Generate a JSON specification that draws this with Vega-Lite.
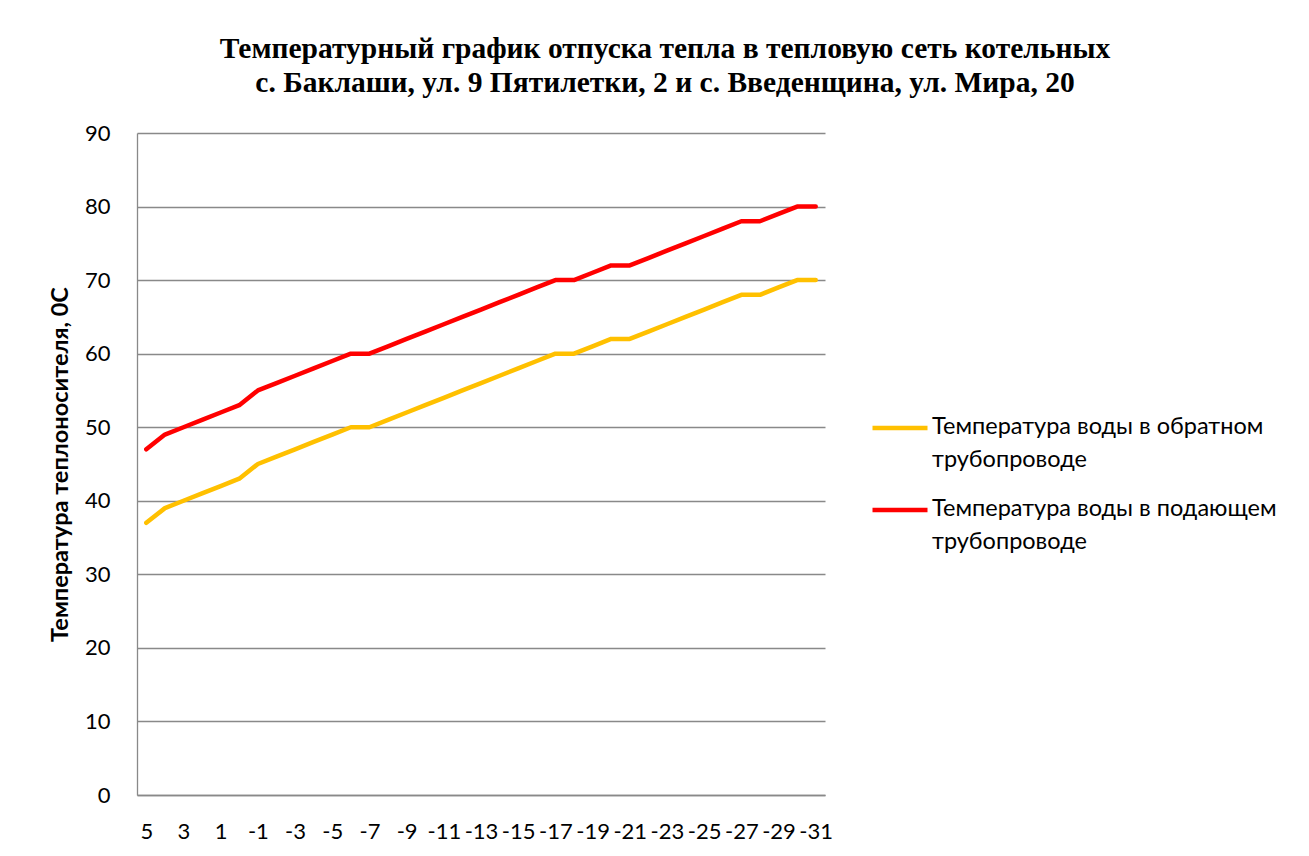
{
  "$schema": "https://vega.github.io/schema/vega-lite/v6.json",
  "autosize": "none",
  "width": 688,
  "height": 662,
  "padding": {"left": 137, "top": 133, "right": 484, "bottom": 61},
  "background": "white",
  "title": {
    "text": ["Температурный график отпуска тепла в тепловую сеть котельных", "с. Баклаши, ул. 9 Пятилетки, 2 и с. Введенщина, ул. Мира, 20"],
    "font": "Liberation Serif",
    "fontSize": 29.5,
    "fontWeight": "bold",
    "color": "black",
    "anchor": "middle",
    "dx": 184,
    "offset": 24,
    "lineHeight": 34
  },
  "data": {
    "values": [
      {"t": 5, "s": "return", "v": 37}, {"t": 4, "s": "return", "v": 39}, {"t": 3, "s": "return", "v": 40}, {"t": 2, "s": "return", "v": 41}, {"t": 1, "s": "return", "v": 42}, {"t": 0, "s": "return", "v": 43}, {"t": -1, "s": "return", "v": 45}, {"t": -2, "s": "return", "v": 46}, {"t": -3, "s": "return", "v": 47}, {"t": -4, "s": "return", "v": 48}, {"t": -5, "s": "return", "v": 49}, {"t": -6, "s": "return", "v": 50}, {"t": -7, "s": "return", "v": 50}, {"t": -8, "s": "return", "v": 51}, {"t": -9, "s": "return", "v": 52}, {"t": -10, "s": "return", "v": 53}, {"t": -11, "s": "return", "v": 54}, {"t": -12, "s": "return", "v": 55}, {"t": -13, "s": "return", "v": 56}, {"t": -14, "s": "return", "v": 57}, {"t": -15, "s": "return", "v": 58}, {"t": -16, "s": "return", "v": 59}, {"t": -17, "s": "return", "v": 60}, {"t": -18, "s": "return", "v": 60}, {"t": -19, "s": "return", "v": 61}, {"t": -20, "s": "return", "v": 62}, {"t": -21, "s": "return", "v": 62}, {"t": -22, "s": "return", "v": 63}, {"t": -23, "s": "return", "v": 64}, {"t": -24, "s": "return", "v": 65}, {"t": -25, "s": "return", "v": 66}, {"t": -26, "s": "return", "v": 67}, {"t": -27, "s": "return", "v": 68}, {"t": -28, "s": "return", "v": 68}, {"t": -29, "s": "return", "v": 69}, {"t": -30, "s": "return", "v": 70}, {"t": -31, "s": "return", "v": 70},
      {"t": 5, "s": "supply", "v": 47}, {"t": 4, "s": "supply", "v": 49}, {"t": 3, "s": "supply", "v": 50}, {"t": 2, "s": "supply", "v": 51}, {"t": 1, "s": "supply", "v": 52}, {"t": 0, "s": "supply", "v": 53}, {"t": -1, "s": "supply", "v": 55}, {"t": -2, "s": "supply", "v": 56}, {"t": -3, "s": "supply", "v": 57}, {"t": -4, "s": "supply", "v": 58}, {"t": -5, "s": "supply", "v": 59}, {"t": -6, "s": "supply", "v": 60}, {"t": -7, "s": "supply", "v": 60}, {"t": -8, "s": "supply", "v": 61}, {"t": -9, "s": "supply", "v": 62}, {"t": -10, "s": "supply", "v": 63}, {"t": -11, "s": "supply", "v": 64}, {"t": -12, "s": "supply", "v": 65}, {"t": -13, "s": "supply", "v": 66}, {"t": -14, "s": "supply", "v": 67}, {"t": -15, "s": "supply", "v": 68}, {"t": -16, "s": "supply", "v": 69}, {"t": -17, "s": "supply", "v": 70}, {"t": -18, "s": "supply", "v": 70}, {"t": -19, "s": "supply", "v": 71}, {"t": -20, "s": "supply", "v": 72}, {"t": -21, "s": "supply", "v": 72}, {"t": -22, "s": "supply", "v": 73}, {"t": -23, "s": "supply", "v": 74}, {"t": -24, "s": "supply", "v": 75}, {"t": -25, "s": "supply", "v": 76}, {"t": -26, "s": "supply", "v": 77}, {"t": -27, "s": "supply", "v": 78}, {"t": -28, "s": "supply", "v": 78}, {"t": -29, "s": "supply", "v": 79}, {"t": -30, "s": "supply", "v": 80}, {"t": -31, "s": "supply", "v": 80}
    ]
  },
  "mark": {"type": "line", "strokeWidth": 4.5, "strokeCap": "round", "strokeJoin": "round"},
  "encoding": {
    "x": {
      "field": "t",
      "type": "ordinal",
      "sort": "descending",
      "scale": {"type": "point", "padding": 0.5},
      "axis": {
        "title": null,
        "values": [5, 3, 1, -1, -3, -5, -7, -9, -11, -13, -15, -17, -19, -21, -23, -25, -27, -29, -31],
        "labelAngle": 0,
        "labelFont": "Lato",
        "labelFontSize": 22,
        "labelColor": "black",
        "labelPadding": 26,
        "ticks": false,
        "domainColor": "#898989",
        "domainWidth": 1.3,
        "grid": false,
        "labelOverlap": false
      }
    },
    "y": {
      "field": "v",
      "type": "quantitative",
      "scale": {"domain": [0, 90]},
      "axis": {
        "title": "Температура теплоносителя, 0С",
        "titleFont": "Lato",
        "titleFontSize": 23.5,
        "titleFontWeight": "bold",
        "titleColor": "black",
        "titlePadding": 12,
        "values": [0, 10, 20, 30, 40, 50, 60, 70, 80, 90],
        "labelFont": "Lato",
        "labelFontSize": 22,
        "labelColor": "black",
        "labelPadding": 27,
        "ticks": false,
        "domainColor": "#898989",
        "domainWidth": 1.3,
        "grid": true,
        "gridColor": "#898989",
        "gridWidth": 1.3
      }
    },
    "color": {
      "field": "s",
      "type": "nominal",
      "scale": {"domain": ["return", "supply"], "range": ["#FFC000", "#FF0000"]},
      "legend": {
        "title": null,
        "orient": "none",
        "legendX": 733,
        "legendY": 265,
        "symbolType": "stroke",
        "symbolSize": 3025,
        "symbolStrokeWidth": 4.5,
        "labelExpr": "datum.value == 'return' ? ['Температура воды в обратном', 'трубопроводе'] : ['Температура воды в подающем', 'трубопроводе']",
        "labelFont": "Lato",
        "labelFontSize": 23.5,
        "labelColor": "black",
        "labelLimit": 500,
        "labelOffset": 2,
        "labelBaseline": "top",
        "rowPadding": 8,
        "padding": 0,
        "encode": {"labels": {"update": {"dy": {"value": -13}, "lineHeight": {"value": 33}}}}
      }
    }
  },
  "config": {"view": {"stroke": null}}
}
